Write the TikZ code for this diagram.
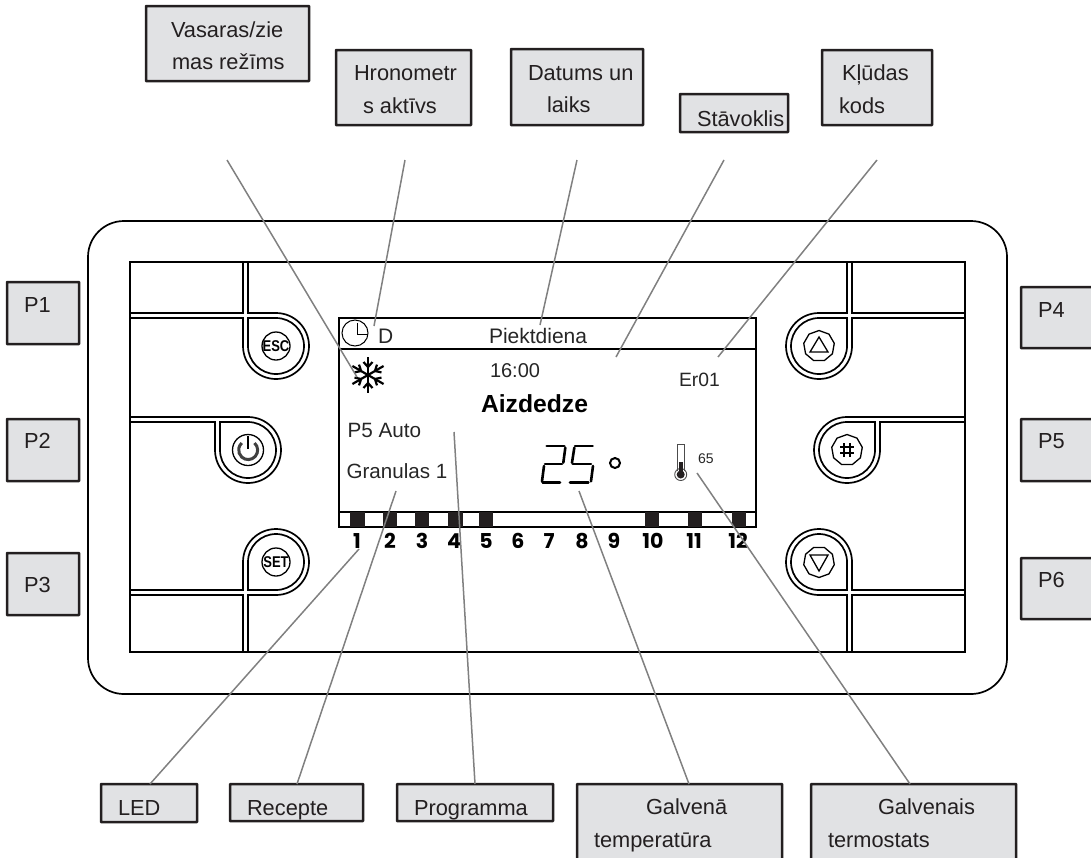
\documentclass[tikz,border=0pt]{standalone}
\usepackage{fontspec}
\setmainfont{Liberation Sans}
\newfontfamily\ledfont{Poppins}
\usetikzlibrary{shapes.geometric}
\definecolor{boxfill}{HTML}{E1E2E4}
\definecolor{boxline}{HTML}{231F20}
\definecolor{leader}{HTML}{808080}
\tikzset{
  x=1pt,y=1pt,
  lab/.style={anchor=base west,inner sep=0pt,outer sep=0pt,text=boxline,font=\fontsize{21.8}{21.8}\selectfont},
  disp/.style={anchor=base west,inner sep=0pt,outer sep=0pt,text=black!85,font=\fontsize{21}{21}\selectfont},
  lednum/.style={anchor=center,inner sep=0pt,font=\ledfont\bfseries\fontsize{20.5}{20.5}\selectfont},
  panel/.style={draw=black,line width=1.7pt},
  lead/.style={draw=leader,line width=1.5pt},
  btnface/.style={draw=black,line width=1.3pt},
  tag/.style={draw=boxline,line width=2.5pt,fill=boxfill,rounded corners=0.5pt},
  seg/.style={draw=black,line width=2.6pt,line cap=round},
}
% channel button with a cross: #1 x, #2 y, #3 xscale, #4 yscale, #5 L, #6 U
\newcommand{\crossbtn}[6]{
  \begin{scope}[shift={(#1,-#2)},xscale=#3,yscale=#4]
    \draw[panel] (#5,33) -- (-33,33) -- (-33,#6);
    \draw[panel] (#5,28) -- (-33,28) -- (-33,0) arc[start angle=180,end angle=450,radius=33] -- (-28,33) -- (-28,#6);
    \draw[panel] (-28,28) -- (0,28) arc[start angle=90,end angle=-180,radius=28] -- cycle;
  \end{scope}}
\newcommand{\sidebtn}[4]{
  \begin{scope}[shift={(#1,-#2)},xscale=#3]
    \draw[panel] (#4,28) -- (-33,28) -- (-33,0) arc[start angle=180,end angle=450,radius=33] -- (#4,33);
    \draw[panel] (-28,28) -- (0,28) arc[start angle=90,end angle=-180,radius=28] -- cycle;
  \end{scope}}
\begin{document}
\begin{tikzpicture}
\useasboundingbox (0,-857) rectangle (1091,0);
\begin{scope}
\clip (0,-857) rectangle (1091,0);
% labelled boxes
\path[tag] (146,-6) rectangle (309,-81);
\path[tag] (336,-50) rectangle (471,-125);
\path[tag] (511,-49) rectangle (643,-125);
\path[tag] (680,-94) rectangle (788,-132);
\path[tag] (822,-50) rectangle (932,-125);
\path[tag] (101,-784) rectangle (197,-822);
\path[tag] (230,-784) rectangle (363,-821);
\path[tag] (397,-784) rectangle (553,-821);
\path[tag] (577,-784) rectangle (782,-870);
\path[tag] (811,-784) rectangle (1016,-870);
\path[tag] (7,-282) rectangle (79,-344);
\path[tag] (7,-419) rectangle (79,-481);
\path[tag] (7,-553) rectangle (79,-615);
\path[tag] (1021,-287) rectangle (1100,-348);
\path[tag] (1021,-419) rectangle (1100,-481);
\path[tag] (1021,-558) rectangle (1100,-619);
\end{scope}
\node[lab] (t1) at (171,-37) {Vasaras/zie};
\node[lab] (t1b) at (172,-69) {mas režīms};
\node[lab] (t2) at (354,-80) {Hronometr};
\node[lab] (t2b) at (363,-113) {s aktīvs};
\node[lab] (t3) at (528,-80) {Datums un};
\node[lab] (t3b) at (547,-112) {laiks};
\node[lab] (t4) at (697,-126) {Stāvoklis};
\node[lab] (t5) at (842,-80) {Kļūdas};
\node[lab] (t5b) at (839,-113) {kods};
\node[lab] (t6) at (118,-815) {LED};
\node[lab] (t7) at (247,-815) {Recepte};
\node[lab] (t8) at (414,-815) {Programma};
\node[lab] (t9) at (646,-814) {Galvenā};
\node[lab] (t9b) at (594,-847) {temperatūra};
\node[lab] (t10) at (878,-814) {Galvenais};
\node[lab] (t10b) at (828,-847) {termostats};
\node[lab] (p1) at (24,-312) {P1};
\node[lab] (p2) at (24,-448) {P2};
\node[lab] (p3) at (24,-592) {P3};
\node[lab] (p4) at (1038,-317) {P4};
\node[lab] (p5) at (1038,-448) {P5};
\node[lab] (p6) at (1038,-587) {P6};
% housing
\draw[panel] (88,-257) arc[start angle=180,end angle=90,radius=36] -- (971,-221) arc[start angle=90,end angle=0,radius=36] -- (1007,-658) arc[start angle=0,end angle=-90,radius=36] -- (124,-694) arc[start angle=-90,end angle=-180,radius=36] -- cycle;
\draw[panel] (130,-262) rectangle (965,-652);
% buttons
\crossbtn{276}{346}{1}{1}{-146}{84}
\crossbtn{276}{562}{1}{-1}{-146}{90}
\crossbtn{819}{346}{-1}{1}{-146}{84}
\crossbtn{819}{562}{-1}{-1}{-146}{90}
\sidebtn{248}{450}{1}{-118}
\sidebtn{847}{450}{-1}{-118}
% button faces
\draw[btnface] (276,-346) circle[radius=14];
\node[inner sep=0pt,font=\bfseries\fontsize{13}{13}\selectfont,yscale=1.2] (esc) at (276,-346) {ESC};
\draw[btnface] (276,-562) circle[radius=14];
\node[inner sep=0pt,font=\bfseries\fontsize{13}{13}\selectfont,yscale=1.2] (set) at (276,-562) {SET};
\draw[btnface] (248,-450) circle[radius=15.5];
\draw[draw=black!75,line width=3pt] (254.5,-443) arc[start angle=48,end angle=-228,radius=9.5];
\draw[draw=black,line width=1.6pt] (248,-436) -- (248,-449);
\node[regular polygon,regular polygon sides=9,draw=black,line width=1.3pt,minimum size=31,inner sep=0pt] (up) at (819,-346) {};
\draw[btnface] (819,-337) -- (810,-352) -- (828,-352) -- cycle;
\node[regular polygon,regular polygon sides=9,shape border rotate=180,draw=black,line width=1.3pt,minimum size=31,inner sep=0pt] (down) at (819,-562) {};
\draw[btnface] (819,-571) -- (810,-555) -- (828,-555) -- cycle;
\node[regular polygon,regular polygon sides=9,draw=black,line width=1.3pt,minimum size=31,inner sep=0pt] (hash) at (847,-450) {};
\begin{scope}[shift={(847,-450)},draw=black,line width=1.9pt]
  \draw (-3,7) -- (-3,-7); \draw (3,7) -- (3,-7);
  \draw (-7,3) -- (7,3); \draw (-7,-3) -- (7,-3);
\end{scope}
% display
\draw[panel] (339,-318) rectangle (756,-527);
\draw[panel] (339,-349) -- (756,-349);
\draw[panel] (339,-512) -- (756,-512);
\foreach \a/\b in {350/365,383/397,415/429,448/463,479/493,645/659,688/702,732/746}
  \fill[boxline] (\a,-512) rectangle (\b,-527);
\foreach \n/\x in {1/357,2/390,3/422,4/454,5/486,6/518,7/549,8/582,9/614,10/653,11/694,12/738}
  \node[lednum] (led\n) at (\x,-541) {\n};
% clock
\draw[draw=black,line width=1pt] (355,-333) circle[radius=13];
\draw[draw=black,line width=1pt] (357,-323) -- (357,-334) -- (367,-334);
\node[disp] (dd) at (378,-343) {D};
\node[disp] (day) at (489,-343) {Piektdiena};
\node[disp,font=\fontsize{20}{20}\selectfont] (time) at (490,-377) {16:00};
\node[disp,font=\fontsize{19.3}{19.3}\selectfont] (err) at (679,-386) {Er01};
\node[disp,text=black,font=\bfseries\fontsize{24.7}{24.7}\selectfont] (state) at (481,-412) {Aizdedze};
\node[disp,font=\fontsize{20.7}{20.7}\selectfont] (prog) at (347.5,-437) {P5 Auto};
\node[disp,font=\fontsize{20.6}{20.6}\selectfont] (gran) at (346.5,-478) {Granulas 1};
\node[disp,font=\fontsize{14}{14}\selectfont] (therm) at (698,-463) {65};
% snowflake
\begin{scope}[shift={(368,-375)},line width=2.2pt,draw=black]
  \foreach \r in {30,90,150,210,270,330}{
    \begin{scope}[rotate=\r]
      \draw (0,0) -- (18,0);
      \draw (8,0) -- (13,4.5); \draw (8,0) -- (13,-4.5);
    \end{scope}}
\end{scope}
% seven-segment 25
\begin{scope}[shift={(480,-290)},x=0.3333pt,y=-0.3333pt]
  \draw[seg] (200,468) -- (253,468);
  \draw[seg] (256,473) -- (250,518);
  \draw[seg] (195,522) -- (246,522);
  \draw[seg] (192,528) -- (186,574);
  \draw[seg] (188,578) -- (240,578);
  \draw[seg] (285,468) -- (338,468);
  \draw[seg] (283,473) -- (276,518);
  \draw[seg] (278,522) -- (333,522);
  \draw[seg] (339,528) -- (333,574);
  \draw[seg] (270,578) -- (325,578);
\end{scope}
\draw[draw=black,line width=2pt] (615,-463) circle[radius=5];
% thermometer
\draw[draw=black!70,line width=0.9pt] (677.5,-471) -- (677.5,-444) -- (684,-444) -- (684,-471);
\draw[draw=black!70,line width=0.9pt] (680.7,-474.5) circle[radius=6];
\fill[boxline] (679,-462) rectangle (683,-474);
\fill[boxline] (680.7,-474.5) circle[radius=4];
% leader end points
\coordinate (a1) at (227,-160); \coordinate (b1) at (357,-377);
\coordinate (a2) at (405,-160); \coordinate (b2) at (374,-326);
\coordinate (a3) at (577,-160); \coordinate (b3) at (540,-325);
\coordinate (a4) at (724,-160); \coordinate (b4) at (616,-357);
\coordinate (a5) at (877,-160); \coordinate (b5) at (718,-357);
\coordinate (a6) at (150,-784); \coordinate (b6) at (359,-549);
\coordinate (a7) at (297,-784); \coordinate (b7) at (396,-491);
\coordinate (a8) at (475,-784); \coordinate (b8) at (454,-432);
\coordinate (a9) at (689,-784); \coordinate (b9) at (579,-491);
\coordinate (a10) at (910,-784); \coordinate (b10) at (697,-473);
\foreach \i in {1,...,10} \draw[lead] (a\i) -- (b\i);
\end{tikzpicture}
\end{document}
